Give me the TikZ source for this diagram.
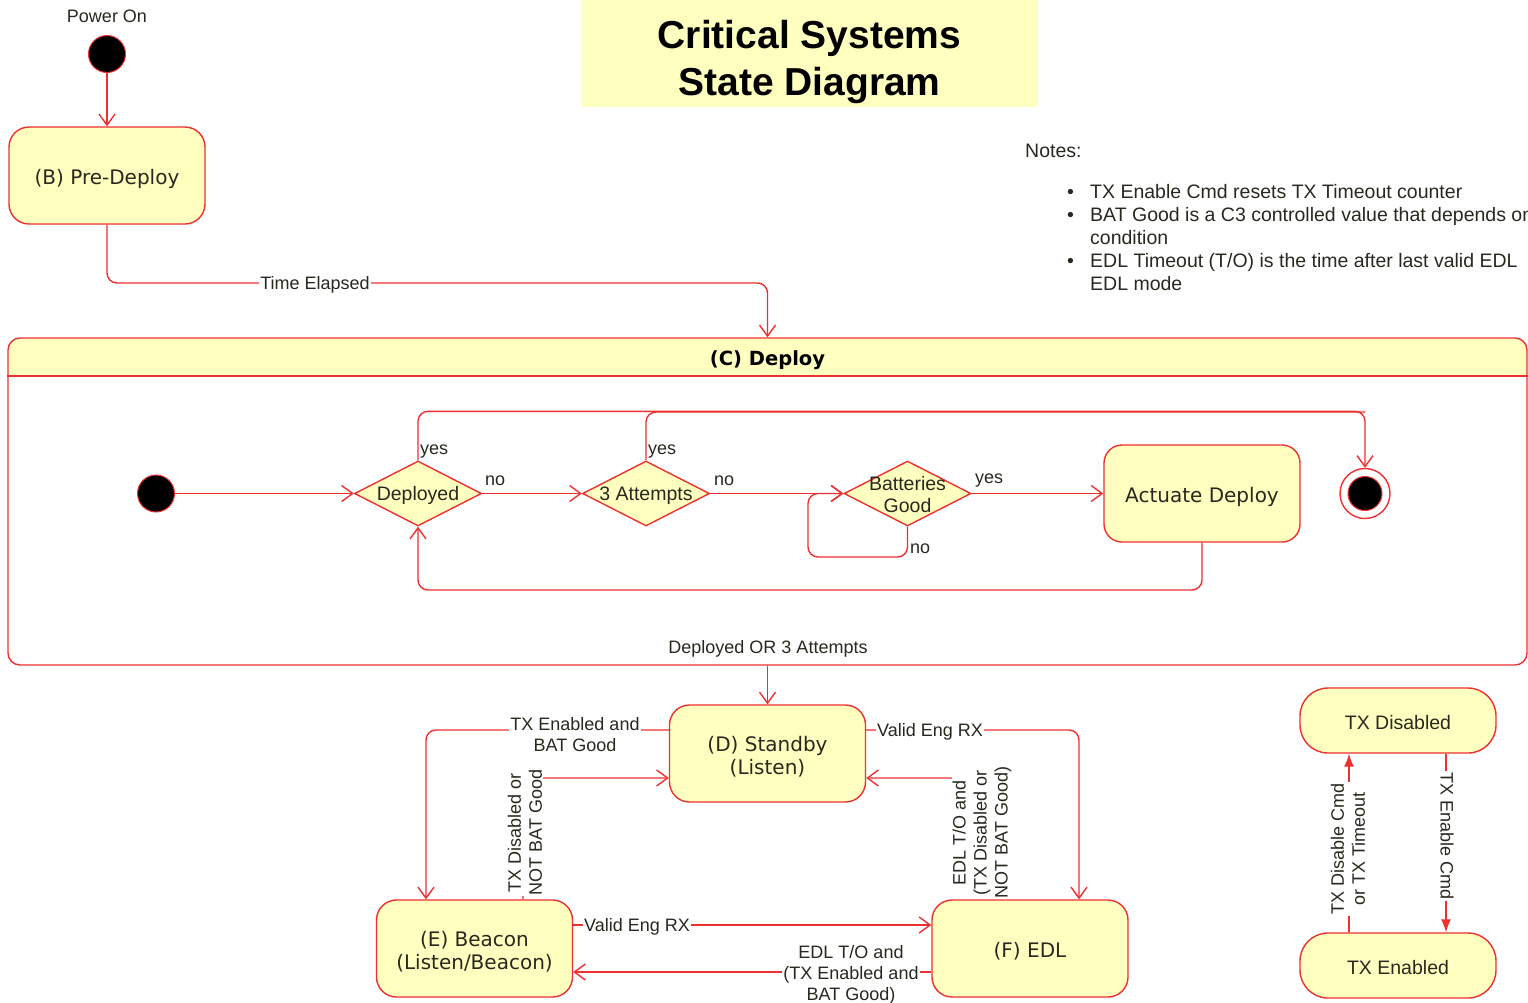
\documentclass[tikz,border=0pt]{standalone}
\usepackage{fontspec}
\setmainfont{Liberation Sans}
\newfontfamily\statefont{DejaVu Sans}
\usetikzlibrary{arrows.meta,shapes.geometric}
\definecolor{umlred}{RGB}{238,48,48}
\definecolor{umlfill}{RGB}{255,255,192}
\definecolor{ink}{RGB}{40,40,30}

\tikzset{
  stext/.style={align=center, inner sep=0pt, text=ink, yshift=-3pt,
    font=\statefont\fontsize{20}{23}\selectfont},
  state/.style={draw=umlred, fill=umlfill, rounded corners=20pt, line width=1.4pt,
    minimum width=196pt, minimum height=97pt, inner sep=0pt,
    label={[stext]center:#1}},
  toggle/.style={draw=umlred, fill=umlfill, rounded corners=28pt, line width=1.4pt,
    minimum width=196pt, minimum height=65pt, inner sep=0pt,
    label={[stext, yshift=1pt, font=\normalfont\fontsize{19.5}{23}\selectfont]center:#1}},
  choice/.style={diamond, draw=umlred, fill=umlfill, line width=1.4pt,
    minimum width=127pt, minimum height=65pt, inner sep=0pt},
  ctext/.style={font=\fontsize{19.5}{22.5}\selectfont, text=ink, align=center,
    inner sep=0pt, yshift=-2pt},
  dot/.style={circle, fill=black, draw=umlred, line width=1pt, minimum size=37pt, inner sep=0pt},
  link/.style={draw=umlred, line width=1.4pt, rounded corners=10pt},
  flow/.style={link, -{Straight Barb[length=11pt,width=16pt]}},
  solidflow/.style={link, -{Latex[length=13pt,width=10pt]}},
  lbl/.style={fill=white, inner sep=1.5pt, align=center, text=ink,
    font=\fontsize{18}{21}\selectfont},
  tag/.style={inner sep=1pt, text=ink, font=\fontsize{18}{21}\selectfont},
  note/.style={anchor=base west, inner sep=0pt, text=ink, font=\fontsize{19.5}{23}\selectfont},
}

\begin{document}
\begin{tikzpicture}[x=1pt,y=-1pt]
\useasboundingbox (0,0) rectangle (1528,1002);

% title block
\node[fill=umlfill, minimum width=457pt, minimum height=107pt, inner sep=0pt] (titlebox) at (809.5,53.5) {};
\node[align=center, font=\bfseries\fontsize{39}{47}\selectfont, text=black] (title) at (809.5,62) {Critical Systems\\State Diagram};

% notes
\node[note] (notes) at (1025,157) {Notes:};
\node[note] (b1) at (1067,198) {\textbullet};
\node[note] (n1) at (1090,198) {TX Enable Cmd resets TX Timeout counter};
\node[note] (b2) at (1067,221) {\textbullet};
\node[note] (n2) at (1090,221) {BAT Good is a C3 controlled value that depends on};
\node[note] (n2b) at (1090,244) {condition};
\node[note] (b3) at (1067,267) {\textbullet};
\node[note] (n3) at (1090,267) {EDL Timeout (T/O) is the time after last valid EDL};
\node[note] (n3b) at (1090,290) {EDL mode};

% power on and pre-deploy
\node[tag] (pwr) at (107,16) {Power On};
\node[dot] (init) at (107,54) {};
\node[state={(B) Pre-Deploy}] (pre) at (107,175.5) {};
\draw[flow] (init) -- (pre);

% deploy composite state
\begin{scope}
  \clip[rounded corners=12pt] (8,338) rectangle (1527,665);
  \fill[umlfill] (8,338) rectangle (1527,376);
\end{scope}
\node[draw=umlred, line width=1.4pt, rounded corners=12pt, minimum width=1519pt,
  minimum height=327pt, inner sep=0pt] (deploy) at (767.5,501.5) {};
\draw[umlred, line width=1.4pt] (deploy.west |- 0,376) -- (deploy.east |- 0,376);
\node[font=\statefont\bfseries\fontsize{19.5}{23}\selectfont, text=black] (deployname) at (767.5,360) {(C) Deploy};

\draw[flow] (pre.south) |- (deploy.north |- 0,283) -- (deploy.north);
\node[lbl] (telapsed) at (315,285) {Time Elapsed};

% inside deploy
\node[dot] (start) at (156,493.5) {};
\node[choice, label={[ctext]center:Deployed}] (dep) at (418,493.5) {};
\node[choice, label={[ctext]center:3 Attempts}] (att) at (646,493.5) {};
\node[choice, label={[ctext, yshift=1pt]center:{Batteries\\Good}}] (bat) at (907.5,493.5) {};
\node[state={Actuate Deploy}, rounded corners=18pt] (act) at (1202,493.5) {};
\node[circle, draw=umlred, fill=white, line width=1.4pt, minimum size=50pt, inner sep=0pt] (final) at (1365,493.5) {};
\node[dot, minimum size=34pt] (finalcore) at (final) {};

\draw[flow] (start) -- (dep);
\draw[flow] (dep) -- (att);
\draw[flow] (att) -- (bat);
\draw[flow] (bat) -- (act);
\node[tag, anchor=west] (dno) at (484,481) {no};
\node[tag, anchor=west] (ano) at (713,481) {no};
\node[tag, anchor=west] (byes) at (974,481) {yes};

\draw[flow] (dep.north) -- ++(0,-49) -| (final.north);
\draw[link] (att.north) |- (final.north |- 0,412);
\node[tag, anchor=west] (dyes) at (419,452) {yes};
\node[tag, anchor=west] (ayes) at (647,452) {yes};

\draw[flow] (bat.south) |- (808,557) |- (bat.west);
\node[tag, anchor=west] (bno) at (909,549) {no};

\draw[flow] (act.south) |- (dep.south |- 0,590) -- (dep.south);

% operating modes
\node[state={(D) Standby\\(Listen)}] (standby) at (767.5,753.5) {};
\draw[flow] (deploy.south) -- (standby.north);
\node[tag] (dor) at (768,649) {Deployed OR 3 Attempts};

\node[state={(E) Beacon\\(Listen/Beacon)}] (beacon) at (474.5,948.5) {};
\node[state={(F) EDL}] (edl) at (1030,948.5) {};

\draw[flow] ([yshift=23.5pt]standby.west) -| ([xshift=-48.5pt]beacon.north);
\node[lbl] (l1) at (575,735) {TX Enabled and\\BAT Good};
\draw[flow] ([xshift=48.5pt]beacon.north) |- ([yshift=-24.5pt]standby.west);
\node[lbl, rotate=90, inner ysep=1pt, inner xsep=0.5pt] (l2) at (525,832.5) {TX Disabled or\\NOT BAT Good};
\draw[flow] ([yshift=23.5pt]standby.east) -| ([xshift=49pt]edl.north);
\node[lbl] (l3) at (930,731.5) {Valid Eng RX};
\draw[flow] ([xshift=-48pt]edl.north) |- ([yshift=-24.5pt]standby.east);
\node[lbl, rotate=90, inner ysep=1pt, inner xsep=0.5pt] (l4) at (982,832.5) {EDL T/O and\\(TX Disabled or\\NOT BAT Good)};
\draw[flow] ([yshift=23.5pt]beacon.east) -- ([yshift=23.5pt]edl.west);
\node[lbl] (l5) at (637,926.5) {Valid Eng RX};
\draw[flow] ([yshift=-23.5pt]edl.west) -- ([yshift=-23.5pt]beacon.east);
\node[lbl] (l6) at (851,974.5) {EDL T/O and\\(TX Enabled and\\BAT Good)};

% transmitter states
\node[toggle={TX Disabled}] (txdis) at (1398,720.5) {};
\node[toggle={TX Enabled}] (txen) at (1398,965.5) {};
\draw[solidflow] ([xshift=-49pt]txen.north) -- ([xshift=-49pt]txdis.south);
\node[lbl, rotate=90] (l7) at (1348,849) {TX Disable Cmd\\or TX Timeout};
\draw[solidflow] ([xshift=48pt]txdis.south) -- ([xshift=48pt]txen.north);
\node[lbl, rotate=-90] (l8) at (1447,836) {TX Enable Cmd};
\end{tikzpicture}
\end{document}
